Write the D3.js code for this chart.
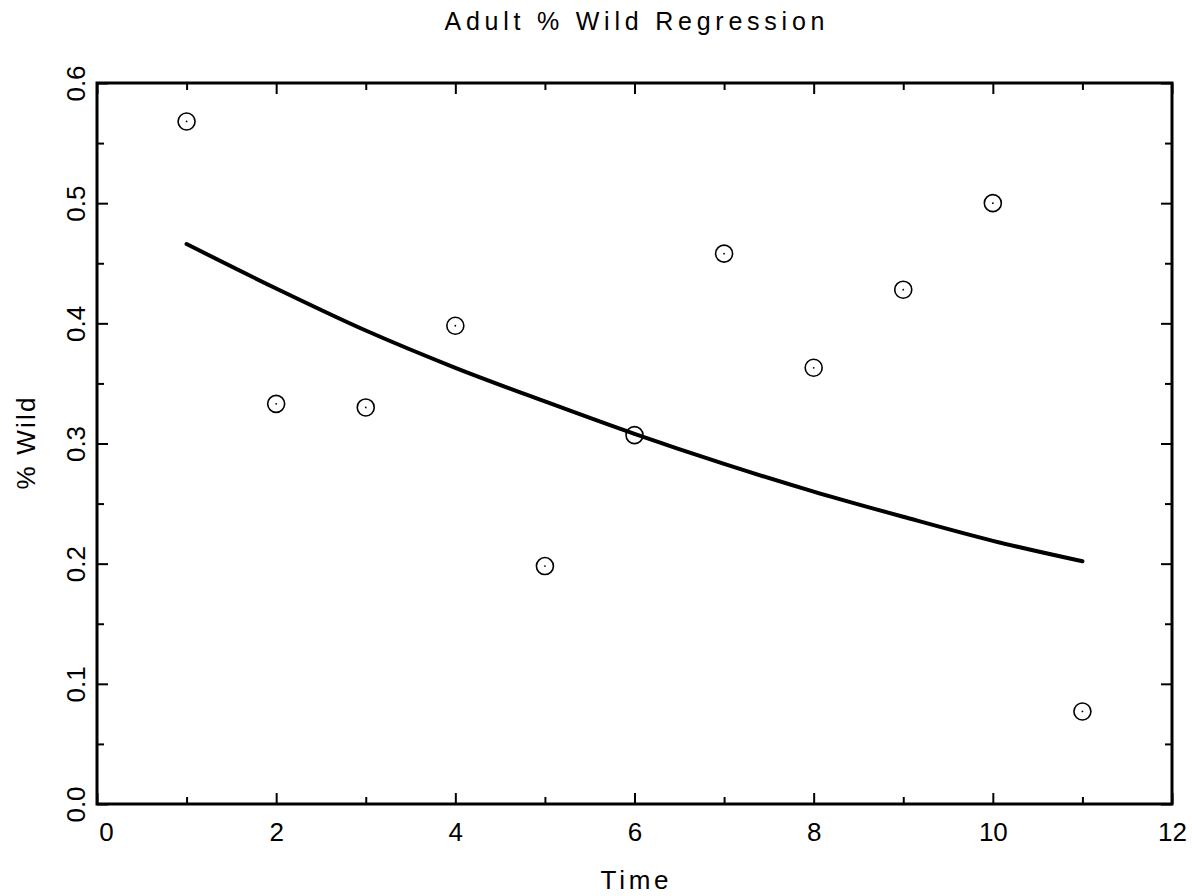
<!DOCTYPE html>
<html>
<head>
<meta charset="utf-8">
<script src="https://cdn.jsdelivr.net/npm/d3@7"></script>
<style>
    body { margin: 0; background: #fff; }
    text { font-family: "Liberation Sans", "DejaVu Sans", sans-serif; fill: #000; }
</style>
</head>
<body>
<div id="chart"></div>
<script>
// Adult % Wild regression

const timeVals = [1, 2, 3, 4, 5, 6, 7, 8, 9, 10, 11];
const wildObs = [0.568, 0.333, 0.330, 0.398, 0.198, 0.307, 0.458, 0.363, 0.428, 0.500, 0.077];
const wildFit = [0.466, 0.429, 0.394, 0.363, 0.335, 0.308, 0.283, 0.260, 0.239, 0.219, 0.202];

const xMajor = [0, 2, 4, 6, 8, 10, 12];
const xMinor = [1, 3, 5, 7, 9, 11];
const yMajor = [0, 0.1, 0.2, 0.3, 0.4, 0.5, 0.6];
const yMinor = [0.05, 0.15, 0.25, 0.35, 0.45, 0.55];

const width = 1192;
const height = 896;
const margin = { top: 83, right: 20, bottom: 92, left: 97 };
const innerWidth = width - margin.left - margin.right;
const innerHeight = height - margin.top - margin.bottom;

const svg = d3.select("#chart")
    .append("svg")
    .attr("width", width)
    .attr("height", height);

const g = svg.append("g")
    .attr("transform", "translate(" + margin.left + "," + margin.top + ")");

const xScale = d3.scaleLinear()
    .domain([0, 12])
    .range([0, innerWidth]);

const yScale = d3.scaleLinear()
    .domain([0, 0.6])
    .range([innerHeight, 0]);

function styleAxis(sel) {
    sel.select(".domain").remove();
    sel.selectAll("line").attr("stroke", "#000").attr("stroke-width", 2);
}

// tick-only axes: drop the empty labels too
function ticksOnly(sel) {
    styleAxis(sel);
    sel.selectAll("text").remove();
}

// ticks point inward on all four sides
g.append("g")
    .attr("transform", "translate(0," + innerHeight + ")")
    .call(d3.axisBottom(xScale).tickValues(xMajor).tickSize(-11).tickFormat(d3.format("d")))
    .call(styleAxis)
    .call(s => s.selectAll("text")
        .attr("y", 37)
        .attr("dy", 0)
        .attr("x", d => d === 0 ? 9 : 0)
        .style("font-size", "26px"));

g.append("g")
    .attr("transform", "translate(0," + innerHeight + ")")
    .call(d3.axisBottom(xScale).tickValues(xMinor).tickSize(-7))
    .call(ticksOnly);

g.append("g")
    .call(d3.axisTop(xScale).tickValues(xMajor).tickSize(-11))
    .call(ticksOnly);

g.append("g")
    .call(d3.axisTop(xScale).tickValues(xMinor).tickSize(-7))
    .call(ticksOnly);

g.append("g")
    .call(d3.axisLeft(yScale).tickValues(yMajor).tickSize(-11).tickFormat(d3.format(".1f")))
    .call(styleAxis)
    .call(s => s.selectAll("text")
        .attr("x", 0)
        .attr("dy", 0)
        .attr("text-anchor", "middle")
        .attr("transform", "translate(-12,0) rotate(-90)")
        .style("font-size", "26px"));

g.append("g")
    .call(d3.axisLeft(yScale).tickValues(yMinor).tickSize(-7))
    .call(ticksOnly);

g.append("g")
    .attr("transform", "translate(" + innerWidth + ",0)")
    .call(d3.axisRight(yScale).tickValues(yMajor).tickSize(-11))
    .call(ticksOnly);

g.append("g")
    .attr("transform", "translate(" + innerWidth + ",0)")
    .call(d3.axisRight(yScale).tickValues(yMinor).tickSize(-7))
    .call(ticksOnly);

// frame
g.append("rect")
    .attr("x", 0)
    .attr("y", 0)
    .attr("width", innerWidth)
    .attr("height", innerHeight)
    .attr("fill", "none")
    .attr("stroke", "#000")
    .attr("stroke-width", 3);

// fitted curve
const fitData = timeVals.map((t, i) => ({ t: t, v: wildFit[i] }));
const line = d3.line()
    .x(d => xScale(d.t))
    .y(d => yScale(d.v))
    .curve(d3.curveMonotoneX);

g.append("path")
    .datum(fitData)
    .attr("d", line)
    .attr("fill", "none")
    .attr("stroke", "#000")
    .attr("stroke-width", 4)
    .attr("stroke-linecap", "round");

// observed points
const obsData = timeVals.map((t, i) => ({ t: t, v: wildObs[i] }));

g.selectAll(".dot")
    .data(obsData)
    .enter()
    .append("circle")
    .attr("class", "dot")
    .attr("cx", d => xScale(d.t))
    .attr("cy", d => yScale(d.v))
    .attr("r", 8.5)
    .attr("fill", "none")
    .attr("stroke", "#000")
    .attr("stroke-width", 1.6);

g.selectAll(".dot-center")
    .data(obsData)
    .enter()
    .append("circle")
    .attr("class", "dot-center")
    .attr("cx", d => xScale(d.t))
    .attr("cy", d => yScale(d.v))
    .attr("r", 0.9)
    .attr("fill", "#000");

// labels
svg.append("text")
    .attr("x", margin.left + innerWidth / 2)
    .attr("y", 30)
    .attr("text-anchor", "middle")
    .attr("textLength", 380)
    .attr("lengthAdjust", "spacing")
    .style("font-size", "25px")
    .text("Adult % Wild Regression");

svg.append("text")
    .attr("x", margin.left + innerWidth / 2)
    .attr("y", 889)
    .attr("text-anchor", "middle")
    .attr("textLength", 68)
    .attr("lengthAdjust", "spacing")
    .style("font-size", "26px")
    .text("Time");

svg.append("text")
    .attr("transform", "translate(35," + (margin.top + innerHeight / 2) + ") rotate(-90)")
    .attr("text-anchor", "middle")
    .attr("textLength", 92)
    .attr("lengthAdjust", "spacing")
    .style("font-size", "26px")
    .text("% Wild");
</script>
</body>
</html>
